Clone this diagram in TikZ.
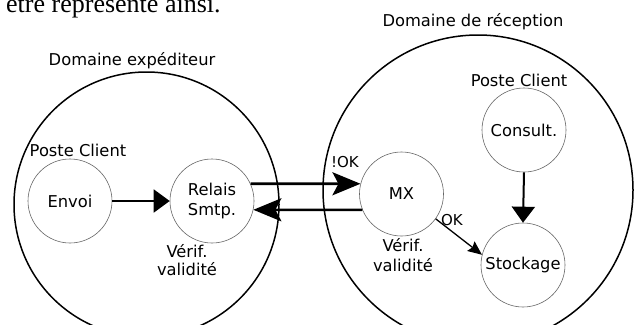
\documentclass[tikz,border=0pt]{standalone}
\usepackage{fontspec}
\setmainfont{DejaVu Sans}
\newfontfamily\topserif{Liberation Serif}
\usetikzlibrary{arrows.meta}
\tikzset{
  domain/.style={circle, draw=black, line width=1.5pt, minimum size=#1, inner sep=0pt},
  unit/.style={circle, draw=black!60, line width=0.6pt, minimum size=84pt, inner sep=0pt,
    font=\fontsize{16.3}{20}\selectfont, align=center},
  lbl/.style={font=\fontsize{16.3}{20}\selectfont, inner sep=0pt, anchor=base},
  oklbl/.style={font=\fontsize{15}{18}\selectfont, inner sep=0pt},
  bigarrow/.style={line width=2.6pt, -{Stealth[length=28pt, width=23pt, inset=6pt]}},
  medarrow/.style={line width=2pt, -{Triangle[length=16pt, width=23pt]}},
  smallarrow/.style={line width=1.3pt, -{Stealth[length=14pt, width=12pt, inset=2pt]}}
}
\begin{document}
\begin{tikzpicture}[x=1pt,y=-1pt]
\useasboundingbox (0,0) rectangle (634,324);
\clip (0,0) rectangle (634,324);
\fill[white] (0,0) rectangle (634,324);

% cut-off line of text at the top
\node[anchor=base west, inner sep=0pt, font=\topserif\fontsize{26}{30}\selectfont] (toptext) at (6,12.7) {être représenté ainsi.};

% domains
\node[domain=265pt] (dexp) at (146.5,204.5) {};
\node[domain=310pt] (drec) at (478,190) {};
\node[lbl] (lexp) at (132,65) {Domaine expéditeur};
\node[lbl] (lrec) at (473,27) {Domaine de réception};

% sender domain
\node[lbl] (pc1) at (78,156) {Poste Client};
\node[unit] (envoi) at (70,201) {Envoi};
\node[unit] (relais) at (212,201) {Relais\\Smtp.};
\node[lbl] (v1a) at (187,257) {Vérif.};
\node[lbl] (v1b) at (187,275) {validité};

% receiving domain
\node[lbl] (pc2) at (519,86) {Poste Client};
\node[unit] (consult) at (524,130) {Consult.};
\node[unit] (mx) at (401.5,194) {MX};
\node[unit] (stock) at (523,265) {Stockage};
\node[lbl] (v2a) at (403,251) {Vérif.};
\node[lbl] (v2b) at (403,271) {validité};
\node[oklbl] (nok) at (345,162) {!OK};
\node[oklbl] (ok) at (452,220) {OK};

% connectors
\draw[medarrow] (envoi.east) -- (relais.west);
\draw[bigarrow] (relais.24) -- (mx.166);
\draw[bigarrow] (mx.202.4) -- (relais.-12.4);
\draw[smallarrow] (mx.-36) -- (stock.166);
\draw[medarrow] (consult.south) -- (stock.north);
\end{tikzpicture}
\end{document}
